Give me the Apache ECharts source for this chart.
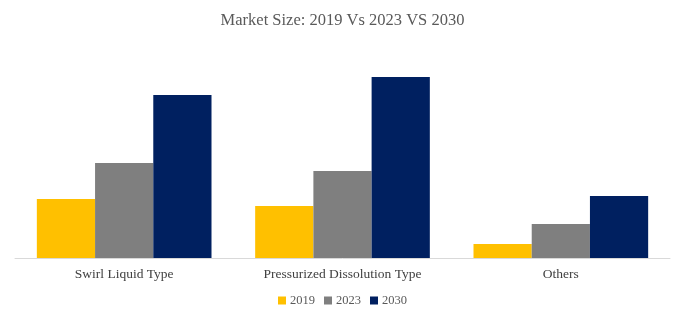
<!DOCTYPE html>
<html><head><meta charset="utf-8">
<script src="https://cdn.jsdelivr.net/npm/echarts@6/dist/echarts.min.js"></script>
<style>html,body{margin:0;padding:0;background:#fff}#c{width:685px;height:322px}</style>
</head><body><div id="c"></div>
<script>
const categories = ["Swirl Liquid Type", "Pressurized Dissolution Type", "Others"];
const seriesNames = ["2019", "2023", "2030"];
const values2019 = [59, 52, 14];
const values2023 = [95, 87, 34];
const values2030 = [163, 181, 62];
const colors = ["#FFC000", "#7F7F7F", "#002060"];

const font = "'Liberation Serif', 'DejaVu Serif', serif";
const chart = echarts.init(document.getElementById('c'));
chart.setOption({
  animation: false,
  title: {
    text: "Market Size: 2019 Vs 2023 VS 2030",
    left: 'center', top: 7,
    textStyle: { fontFamily: font, fontSize: 16.5, fontWeight: 'normal', color: '#595959' }
  },
  legend: {
    bottom: 10, left: 'center',
    itemWidth: 8, itemHeight: 8, itemGap: 9,
    icon: 'rect',
    textStyle: { fontFamily: font, fontSize: 12.5, color: '#595959', padding: [0,0,0,-1] },
    data: seriesNames
  },
  grid: { left: 15, right: 15, top: 58, bottom: 64 },
  xAxis: {
    type: 'category', data: categories,
    axisLine: { lineStyle: { color: '#D9D9D9', width: 1 } },
    axisTick: { show: false },
    axisLabel: { fontFamily: font, fontSize: 13.5, color: '#404040', margin: 9 }
  },
  yAxis: { type: 'value', min: 0, max: 200, show: false, splitLine: { show: false } },
  series: [values2019, values2023, values2030].map((d, i) => ({
    name: seriesNames[i], type: 'bar', data: d,
    itemStyle: { color: colors[i] },
    barGap: '0%', barCategoryGap: '20%'
  }))
});
</script></body></html>
